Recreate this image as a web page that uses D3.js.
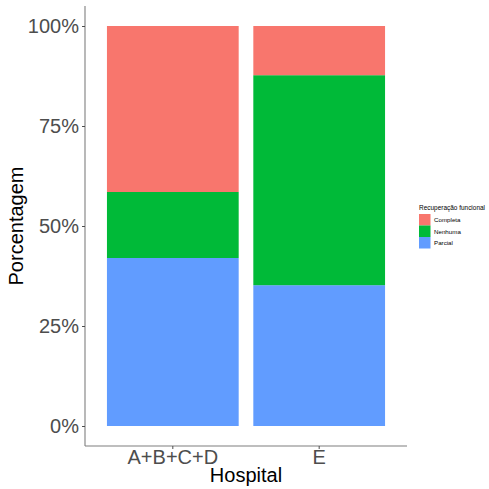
<!DOCTYPE html>
<html>
<head>
<meta charset="utf-8">
<script src="https://cdn.jsdelivr.net/npm/d3@7"></script>
<style>
  body { margin: 0; background: white; }
  text { font-family: "Liberation Sans", Arial, sans-serif; }
</style>
</head>
<body>
<script>
// percentages
const hospitals = ["A+B+C+D", "E"];
const groups = ["Completa", "Nenhuma", "Parcial"];
const completa = [41.5, 12.3];
const nenhuma = [16.5, 52.5];
const parcial = [42.0, 35.2];
const yTicks = [0, 25, 50, 75, 100];
const colors = ["#F8766D", "#00BA38", "#619CFF"];

const W = 489, H = 489;
const panel = {left: 85, right: 407, top: 6, bottom: 446};

var rows = hospitals.map(function (h, i) {
    return {hospital: h, Completa: completa[i], Nenhuma: nenhuma[i], Parcial: parcial[i]};
});

// Parcial at the bottom, Completa on top
var stacked = d3.stack().keys(["Parcial", "Nenhuma", "Completa"])(rows);

var svg = d3.select("body").append("svg")
    .attr("width", W)
    .attr("height", H);

var x = d3.scaleBand()
    .domain(hospitals)
    .range([panel.left, panel.right])
    .paddingInner(0.1)
    .paddingOuter(0.15);

var y = d3.scaleLinear()
    .domain([-5, 105])
    .range([panel.bottom, panel.top]);

var color = d3.scaleOrdinal().domain(groups).range(colors);

svg.append("g").selectAll("g").data(stacked).enter().append("g")
    .attr("fill", function (d) { return color(d.key); })
    .selectAll("rect").data(function (d) { return d; }).enter().append("rect")
    .attr("x", function (d) { return x(d.data.hospital); })
    .attr("width", x.bandwidth())
    .attr("y", function (d) { return y(d[1]); })
    .attr("height", function (d) { return y(d[0]) - y(d[1]); });

// y axis
var yAxis = svg.append("g")
    .attr("transform", "translate(" + panel.left + ",0)")
    .call(d3.axisLeft(y).tickValues(yTicks).tickSize(3).tickPadding(3)
        .tickFormat(function (d) { return d + "%"; }));
yAxis.select(".domain").attr("d", "M0," + panel.top + "V" + panel.bottom)
    .attr("stroke", "#7f7f7f").attr("stroke-width", 1.1);
yAxis.selectAll(".tick line").attr("stroke", "#4d4d4d");
yAxis.selectAll(".tick text").attr("font-size", 20).attr("fill", "#4d4d4d")
    .attr("font-family", "Liberation Sans, Arial, sans-serif");

// x axis
var xAxis = svg.append("g")
    .attr("transform", "translate(0," + panel.bottom + ")")
    .call(d3.axisBottom(x).tickSize(3).tickPadding(1));
xAxis.select(".domain").attr("d", "M" + panel.left + ",0H" + panel.right)
    .attr("stroke", "#7f7f7f").attr("stroke-width", 1.1);
xAxis.selectAll(".tick line").attr("stroke", "#4d4d4d");
xAxis.selectAll(".tick text").attr("font-size", 20).attr("fill", "#4d4d4d")
    .attr("font-family", "Liberation Sans, Arial, sans-serif");

// titles
svg.append("text")
    .attr("x", (panel.left + panel.right) / 2)
    .attr("y", 482)
    .attr("text-anchor", "middle")
    .attr("font-size", 20)
    .text("Hospital");

svg.append("text")
    .attr("transform", "translate(23," + ((panel.top + panel.bottom) / 2) + ") rotate(-90)")
    .attr("text-anchor", "middle")
    .attr("font-size", 20)
    .text("Porcentagem");

// legend
var legend = svg.append("g").attr("transform", "translate(419,202)");
legend.append("text")
    .attr("x", 0).attr("y", 7.5)
    .attr("font-size", 6.6)
    .attr("textLength", 66)
    .attr("lengthAdjust", "spacingAndGlyphs")
    .text("Recuperação funcional");
var items = legend.selectAll(".legends").data(groups).enter().append("g")
    .classed("legends", true)
    .attr("transform", function (d, i) { return "translate(0," + (12 + i * 11.5) + ")"; });
items.append("rect")
    .attr("width", 11.5).attr("height", 11.5)
    .attr("fill", function (d) { return color(d); });
items.append("text")
    .attr("x", 15).attr("y", 8.2)
    .attr("font-size", 6.2)
    .text(function (d) { return d; });
</script>
</body>
</html>
